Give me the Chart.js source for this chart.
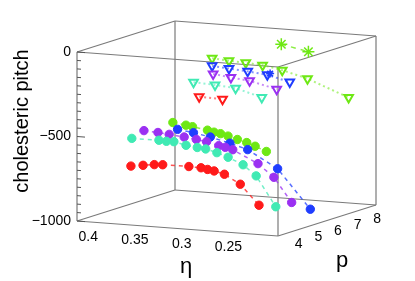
<!DOCTYPE html>
<html>
<head>
<meta charset="utf-8">
<script src="https://cdn.jsdelivr.net/npm/chart.js@4"></script>
<style>
  html, body { margin: 0; padding: 0; background: #fff; }
  canvas { display: block; }
</style>
</head>
<body>
<canvas id="c" width="415" height="281"></canvas>
<script>
// axis ranges
const ETA_MIN = 0.197, ETA_MAX = 0.412;
const P_MIN = 3.3, P_MAX = 8.3;
const Z_MIN = -1000, Z_MAX = 0;

const etaTicks = [0.4, 0.35, 0.3, 0.25];
const etaTickLabels = ['0.4', '0.35', '0.3', '0.25'];
const pTicks = [4, 5, 6, 7, 8];
const zTicks = [0, -500, -1000];
const zTickLabels = ['0', '\u2212500', '\u22121000'];

// p value of each colour
const pRed = 4, pCyan = 5, pPurple = 6, pBlue = 7, pGreen = 8;

// circles (dashed)
const etaRedCirc = [0.369, 0.356, 0.344, 0.335, 0.307, 0.294, 0.287, 0.280, 0.269, 0.252, 0.232];
const pitchRedCirc = [-683, -673, -664, -661, -660, -662, -669, -675, -690, -742, -858];
const etaCyanCirc = [0.389, 0.360, 0.352, 0.344, 0.331, 0.319, 0.310, 0.298, 0.286, 0.270, 0.256, 0.235];
const pitchCyanCirc = [-564, -563, -566, -565, -581, -589, -594, -611, -633, -671, -731, -905];
const etaPurpleCirc = [0.397, 0.382, 0.370, 0.354, 0.341, 0.330, 0.317, 0.310, 0.302, 0.275, 0.258, 0.239];
const pitchPurpleCirc = [-558, -563, -569, -578, -587, -596, -614, -621, -632, -703, -777, -918];
const etaBlueCirc = [0.382, 0.365, 0.347, 0.326, 0.307, 0.275, 0.240];
const pitchBlueCirc = [-581, -594, -612, -640, -670, -770, -995];
const etaGreenCirc = [0.408, 0.394, 0.387, 0.371, 0.364, 0.357, 0.349, 0.339, 0.329, 0.320, 0.308];
const pitchGreenCirc = [-588, -598, -604, -618, -627, -633, -644, -660, -674, -692, -718];

// open triangles (dotted)
const etaRedTri = [0.296, 0.271];
const pitchRedTri = [-242, -247];
const etaCyanTri = [0.323, 0.300, 0.278, 0.250];
const pitchCyanTri = [-204, -211, -221, -264];
const etaPurpleTri = [0.323, 0.304, 0.284, 0.255];
const pitchPurpleTri = [-192, -205, -217, -254];
const etaBlueTri = [0.345, 0.327, 0.307, 0.286, 0.262];
const pitchBlueTri = [-190, -199, -207, -219, -252];
const etaGreenTri = [0.366, 0.348, 0.330, 0.312, 0.291, 0.264, 0.220];
const pitchGreenTri = [-190, -198, -202, -209, -230, -269, -363];

// stars
const etaBlueStar = [0.283];
const pitchBlueStar = [-210];
const etaGreenStar = [0.292, 0.263];
const pitchGreenStar = [-77, -109];

const RED = '#ff1a1a', CYAN = '#40eab4', PURPLE = '#9b30f2', BLUE = '#1f3dff', GREEN = '#6ee814';

// oblique view of the 3D box onto the page
const view = { x0: 77, y0: 221, ex: [201, 15], ep: [98, -31], ez: [0, -169] };
function project(eta, p, z) {
    const fe = (ETA_MAX - eta) / (ETA_MAX - ETA_MIN);
    const fp = (p - P_MIN) / (P_MAX - P_MIN);
    const fz = (z - Z_MIN) / (Z_MAX - Z_MIN);
    return {
        x: view.x0 + fe * view.ex[0] + fp * view.ep[0] + fz * view.ez[0],
        y: view.y0 + fe * view.ex[1] + fp * view.ep[1] + fz * view.ez[1]
    };
}
function points(etas, pitches, p) {
    return etas.map((e, i) => project(e, p, pitches[i]));
}
function fade(hex, a) {
    const n = parseInt(hex.slice(1), 16);
    return `rgba(${n >> 16}, ${(n >> 8) & 255}, ${n & 255}, ${a})`;
}

function circles(etas, pitches, p, color) {
    return {
        data: points(etas, pitches, p),
        showLine: true,
        borderColor: fade(color, 0.75),
        borderDash: [4, 4],
        borderWidth: 1.5,
        pointStyle: 'circle',
        pointRadius: 4.2,
        pointBorderWidth: 1,
        pointBorderColor: color,
        pointBackgroundColor: color
    };
}
function triangles(etas, pitches, p, color) {
    return {
        data: points(etas, pitches, p),
        showLine: true,
        borderColor: fade(color, 0.55),
        borderDash: [2, 3],
        borderWidth: 2,
        pointStyle: 'triangle',
        rotation: 180,
        pointRadius: 5,
        pointBorderWidth: 2,
        pointBorderColor: color,
        pointBackgroundColor: 'rgba(255,255,255,0)'
    };
}
function stars(etas, pitches, p, color, r) {
    return {
        data: points(etas, pitches, p),
        showLine: true,
        borderColor: fade(color, 0.8),
        borderDash: [5, 5],
        borderWidth: 1.5,
        pointStyle: 'star',
        pointRadius: r,
        pointBorderWidth: 1.5,
        pointBorderColor: color,
        pointBackgroundColor: color
    };
}

// wireframe box edges
const boxEdges = [];
const cE = [ETA_MAX, ETA_MIN], cP = [P_MIN, P_MAX], cZ = [Z_MIN, Z_MAX];
for (const a of cE) for (const b of cP) boxEdges.push([project(a, b, Z_MIN), project(a, b, Z_MAX)]);
for (const a of cE) for (const c of cZ) boxEdges.push([project(a, P_MIN, c), project(a, P_MAX, c)]);
for (const b of cP) for (const c of cZ) boxEdges.push([project(ETA_MAX, b, c), project(ETA_MIN, b, c)]);
const edgeSets = boxEdges.map(seg => ({
    data: seg,
    showLine: true,
    borderColor: '#7a7a7a',
    borderWidth: 1.2,
    pointRadius: 0
}));

const axisText = {
    id: 'axisText',
    afterDraw(chart) {
        const ctx = chart.ctx;
        const sx = v => chart.scales.x.getPixelForValue(v);
        const sy = v => chart.scales.y.getPixelForValue(v);
        ctx.save();
        ctx.fillStyle = '#000';
        ctx.strokeStyle = '#555';
        ctx.lineWidth = 1;
        // z ticks on the front-left edge
        for (let z = Z_MIN; z <= Z_MAX; z += 50) {
            const q = project(ETA_MAX, P_MIN, z);
            const len = z % 500 === 0 ? 8 : 4;
            ctx.beginPath();
            ctx.moveTo(sx(q.x), sy(q.y));
            ctx.lineTo(sx(q.x) + len, sy(q.y) + len * view.ex[1] / view.ex[0]);
            ctx.stroke();
        }
        ctx.font = '14px "Liberation Sans", Arial, sans-serif';
        ctx.textBaseline = 'middle';
        ctx.textAlign = 'right';
        zTicks.forEach((z, i) => {
            const q = project(ETA_MAX, P_MIN, z);
            ctx.fillText(zTickLabels[i], sx(q.x) - 6, sy(q.y));
        });
        ctx.textAlign = 'center';
        etaTicks.forEach((e, i) => {
            const q = project(e, P_MIN, Z_MIN);
            ctx.fillText(etaTickLabels[i], sx(q.x), sy(q.y) + 15);
        });
        pTicks.forEach(p => {
            const q = project(ETA_MIN, p, Z_MIN);
            ctx.fillText(String(p), sx(q.x) + 7, sy(q.y) + 12);
        });
        ctx.font = '20px "Liberation Sans", Arial, sans-serif';
        ctx.save();
        ctx.translate(22, 121);
        ctx.rotate(-Math.PI / 2);
        ctx.fillText('cholesteric pitch', 0, 0);
        ctx.restore();
        ctx.font = '22px "Liberation Sans", Arial, sans-serif';
        ctx.fillText('\u03b7', 186, 267);
        ctx.fillText('p', 342, 261);
        ctx.restore();
    }
};

new Chart(document.getElementById('c'), {
    type: 'scatter',
    data: {
        datasets: [
            stars(etaGreenStar, pitchGreenStar, pGreen, GREEN, 6),
            triangles(etaRedTri, pitchRedTri, pRed, RED),
            triangles(etaCyanTri, pitchCyanTri, pCyan, CYAN),
            triangles(etaPurpleTri, pitchPurpleTri, pPurple, PURPLE),
            triangles(etaBlueTri, pitchBlueTri, pBlue, BLUE),
            stars(etaBlueStar, pitchBlueStar, pBlue, BLUE, 4),
            triangles(etaGreenTri, pitchGreenTri, pGreen, GREEN),
            circles(etaRedCirc, pitchRedCirc, pRed, RED),
            circles(etaCyanCirc, pitchCyanCirc, pCyan, CYAN),
            circles(etaPurpleCirc, pitchPurpleCirc, pPurple, PURPLE),
            circles(etaBlueCirc, pitchBlueCirc, pBlue, BLUE),
            circles(etaGreenCirc, pitchGreenCirc, pGreen, GREEN),
            ...edgeSets
        ]
    },
    options: {
        responsive: false,
        animation: false,
        layout: { padding: 0, autoPadding: false },
        plugins: { legend: { display: false }, tooltip: { enabled: false } },
        scales: {
            x: { type: 'linear', min: 0, max: 415, display: false },
            y: { type: 'linear', min: 0, max: 281, reverse: true, display: false }
        }
    },
    plugins: [axisText]
});
</script>
</body>
</html>
